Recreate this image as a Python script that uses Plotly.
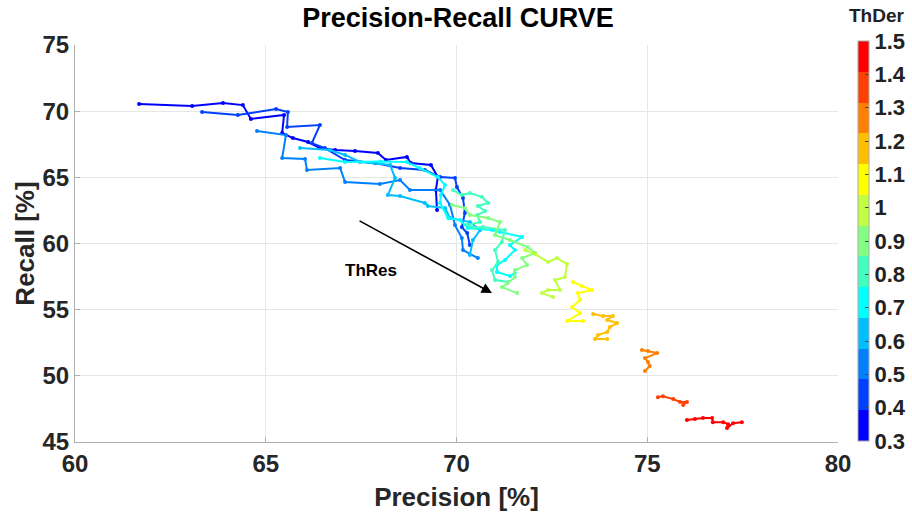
import plotly.graph_objects as go

thder = [0.3, 0.4, 0.5, 0.6, 0.7, 0.8, 0.9, 1.0, 1.1, 1.2, 1.3, 1.4, 1.5]

P_03 = [61.68, 63.07, 63.88, 64.40, 64.61, 65.48, 65.43, 65.71, 66.11, 66.42, 66.82, 67.34, 67.94, 68.15, 68.70, 68.80, 69.33, 69.51, 69.46, 69.49]
R_03 = [70.54, 70.39, 70.62, 70.46, 69.41, 69.71, 68.35, 67.97, 67.67, 67.21, 67.06, 66.99, 66.84, 66.31, 66.54, 66.08, 65.93, 65.02, 64.04, 62.53]
P_04 = [63.33, 64.27, 65.27, 65.58, 65.56, 66.42, 66.21, 66.55, 67.08, 67.86, 68.52, 69.17, 69.57, 69.96, 70.01, 70.17, 70.22, 70.14, 70.28, 70.35]
R_04 = [69.94, 69.71, 70.16, 69.94, 68.80, 68.95, 67.59, 67.21, 66.31, 66.08, 65.70, 65.55, 65.02, 64.95, 64.27, 63.44, 62.30, 61.24, 60.79, 59.88]
P_05 = [64.77, 65.53, 65.43, 66.03, 66.08, 66.95, 67.08, 67.99, 68.52, 68.78, 69.57, 69.83, 69.96, 70.14, 70.17, 70.56]
R_05 = [68.50, 68.20, 66.46, 66.38, 65.55, 65.70, 64.64, 64.49, 64.80, 64.04, 64.04, 62.91, 61.39, 60.41, 59.50, 58.90]
P_06 = [65.90, 66.68, 67.08, 67.47, 68.26, 68.39, 68.20, 68.52, 69.17, 69.25, 69.70, 69.83, 70.35, 70.62, 70.43, 70.35]
R_06 = [67.21, 67.06, 66.69, 66.16, 65.93, 64.95, 63.66, 63.59, 63.06, 62.83, 62.68, 61.92, 61.62, 61.02, 60.26, 59.13]
P_07 = [66.42, 67.08, 68.00, 68.70, 69.04, 69.51, 69.70, 69.59, 69.57, 69.78, 70.09, 70.30, 70.93, 71.14, 71.72, 71.40, 71.53, 71.27, 71.06, 71.06, 71.40, 71.53]
R_07 = [66.46, 66.16, 66.20, 66.16, 65.70, 65.02, 64.42, 63.66, 63.06, 61.92, 61.77, 61.17, 61.02, 60.87, 60.49, 59.88, 59.50, 58.75, 58.37, 57.84, 57.54, 57.77]
P_08 = [69.91, 70.14, 70.35, 70.67, 70.83, 70.56, 70.75, 70.54, 70.62, 70.28, 70.48, 70.69, 71.27, 71.19, 71.01, 71.09, 70.93, 71.01, 71.35]
R_08 = [64.04, 63.66, 63.81, 63.51, 63.06, 62.83, 62.45, 62.15, 61.62, 61.39, 61.17, 61.24, 61.02, 60.11, 59.50, 58.60, 57.99, 57.24, 57.09]
P_09 = [69.88, 70.22, 70.35, 70.83, 71.14, 71.01, 71.40, 71.87, 72.06, 71.72, 71.85, 71.53, 71.53, 71.35, 71.19, 71.59]
R_09 = [62.91, 62.68, 62.15, 61.92, 61.62, 60.64, 60.26, 59.73, 59.28, 58.90, 58.37, 57.99, 57.46, 57.01, 56.71, 56.25]
P_10 = [71.80, 72.06, 72.40, 72.63, 72.90, 72.84, 72.58, 72.71, 72.40, 72.24, 72.53]
R_10 = [59.50, 59.20, 58.60, 58.90, 58.45, 57.46, 57.24, 56.48, 56.48, 56.25, 55.95]
P_11 = [73.05, 73.29, 73.55, 73.18, 73.24, 73.03, 73.24, 72.90, 73.32]
R_11 = [57.09, 56.78, 56.48, 56.25, 55.73, 55.20, 54.74, 54.14, 54.14]
P_12 = [73.58, 73.84, 74.10, 73.95, 74.21, 74.02, 73.95, 73.71, 73.63, 73.95]
R_12 = [54.67, 54.52, 54.52, 54.21, 53.99, 53.69, 53.31, 53.08, 52.78, 52.78]
P_13 = [74.86, 75.02, 75.26, 74.94, 75.02, 75.07, 74.94]
R_13 = [51.95, 51.87, 51.72, 51.34, 51.04, 50.74, 50.36]
P_14 = [75.28, 75.41, 75.68, 75.86, 76.04, 75.94]
R_14 = [48.39, 48.46, 48.24, 48.02, 48.02, 47.79]
P_15 = [76.04, 76.25, 76.46, 76.70, 76.72, 76.99, 77.12, 77.09, 77.25, 77.48]
R_15 = [46.66, 46.74, 46.81, 46.81, 46.50, 46.50, 46.35, 46.05, 46.42, 46.50]

precision = [P_03, P_04, P_05, P_06, P_07, P_08, P_09, P_10, P_11, P_12, P_13, P_14, P_15]
recall = [R_03, R_04, R_05, R_06, R_07, R_08, R_09, R_10, R_11, R_12, R_13, R_14, R_15]

cmap = ["#0000ff", "#0040ff", "#0080ff", "#00bfff", "#00ffff", "#40ffbf", "#80ff80",
        "#bfff40", "#ffff00", "#ffbf00", "#ff8000", "#ff4000", "#ff0000"]
cmin, cmax = 0.3, 1.5
n = len(cmap)


def color_for(v):
    k = int((v - cmin) / (cmax - cmin) * n + 1e-9)
    return cmap[min(max(k, 0), n - 1)]


colorscale = []
for i, c in enumerate(cmap):
    colorscale.append([i / n, c])
    colorscale.append([(i + 1) / n, c])

FONT = "Liberation Sans, Arial"

fig = go.Figure()
for v, px_, ry in zip(thder, precision, recall):
    c = color_for(v)
    fig.add_trace(go.Scatter(x=px_, y=ry, mode="lines+markers",
                             line=dict(color=c, width=2),
                             marker=dict(color=c, size=4),
                             showlegend=False, hoverinfo="skip"))

cb_ticks = [0.3, 0.4, 0.5, 0.6, 0.7, 0.8, 0.9, 1.0, 1.1, 1.2, 1.3, 1.4, 1.5]
cb_text = ["0.3", "0.4", "0.5", "0.6", "0.7", "0.8", "0.9", "1", "1.1", "1.2", "1.3", "1.4", "1.5"]

cbar = dict(thickness=11, lenmode="pixels", len=400,
            x=(858 - 75) / 763, xanchor="left",
            y=(442 - 241) / 397, yanchor="middle",
            xpad=0, ypad=0,
            tickvals=cb_ticks, ticktext=cb_text,
            ticks="inside", ticklen=4, tickcolor="#444",
            outlinecolor="#aaaaaa", outlinewidth=1,
            tickfont=dict(family=FONT, size=22, color="#222", weight="bold"))
marker_cb = dict(color=[cmin], cmin=cmin, cmax=cmax, colorscale=colorscale,
                 showscale=True, colorbar=cbar)
fig.add_trace(go.Scatter(x=[None], y=[None], mode="markers", showlegend=False, marker=marker_cb))

axis_common = dict(showgrid=True, gridcolor="#e6e6e6", gridwidth=1, zeroline=False,
                   showline=True, linecolor="#b0b0b0", linewidth=1,
                   ticks="inside", ticklen=5, tickcolor="#b0b0b0",
                   tickfont=dict(family=FONT, size=24, color="#262626", weight="bold"))

fig.update_layout(
    width=912, height=516,
    margin=dict(l=75, r=74, t=45, b=74, autoexpand=False),
    paper_bgcolor="white", plot_bgcolor="white",
    title=dict(text="<b>Precision-Recall CURVE</b>", x=458 / 912, xanchor="center",
               y=1 - 18 / 516, yanchor="middle",
               font=dict(family=FONT, size=27, color="black")),
    xaxis=dict(range=[60, 80], tickvals=[60, 65, 70, 75, 80],
               title=dict(text="<b>Precision [%]</b>", font=dict(family=FONT, size=26, color="#262626"), standoff=12),
               **axis_common),
    yaxis=dict(range=[45, 75], tickvals=[45, 50, 55, 60, 65, 70, 75],
               title=dict(text="<b>Recall [%]</b>", font=dict(family=FONT, size=26, color="#262626"), standoff=0),
               **axis_common),
)

fig.add_annotation(x=70.93, y=56.25, ax=67.42, ay=61.77, xref="x", yref="y", axref="x", ayref="y",
                   showarrow=True, arrowhead=2, arrowsize=1.3, arrowwidth=1.6, arrowcolor="black", text="")
fig.add_annotation(x=67.76, y=57.99, xref="x", yref="y", text="<b>ThRes</b>", showarrow=False,
                   font=dict(family=FONT, size=17, color="black"))
fig.add_annotation(x=(877 - 75) / 763, y=(442 - 15) / 397, xref="paper", yref="paper", text="<b>ThDer</b>",
                   showarrow=False, xanchor="center", yanchor="middle",
                   font=dict(family=FONT, size=19, color="#222"))

fig.write_html("out.html")
